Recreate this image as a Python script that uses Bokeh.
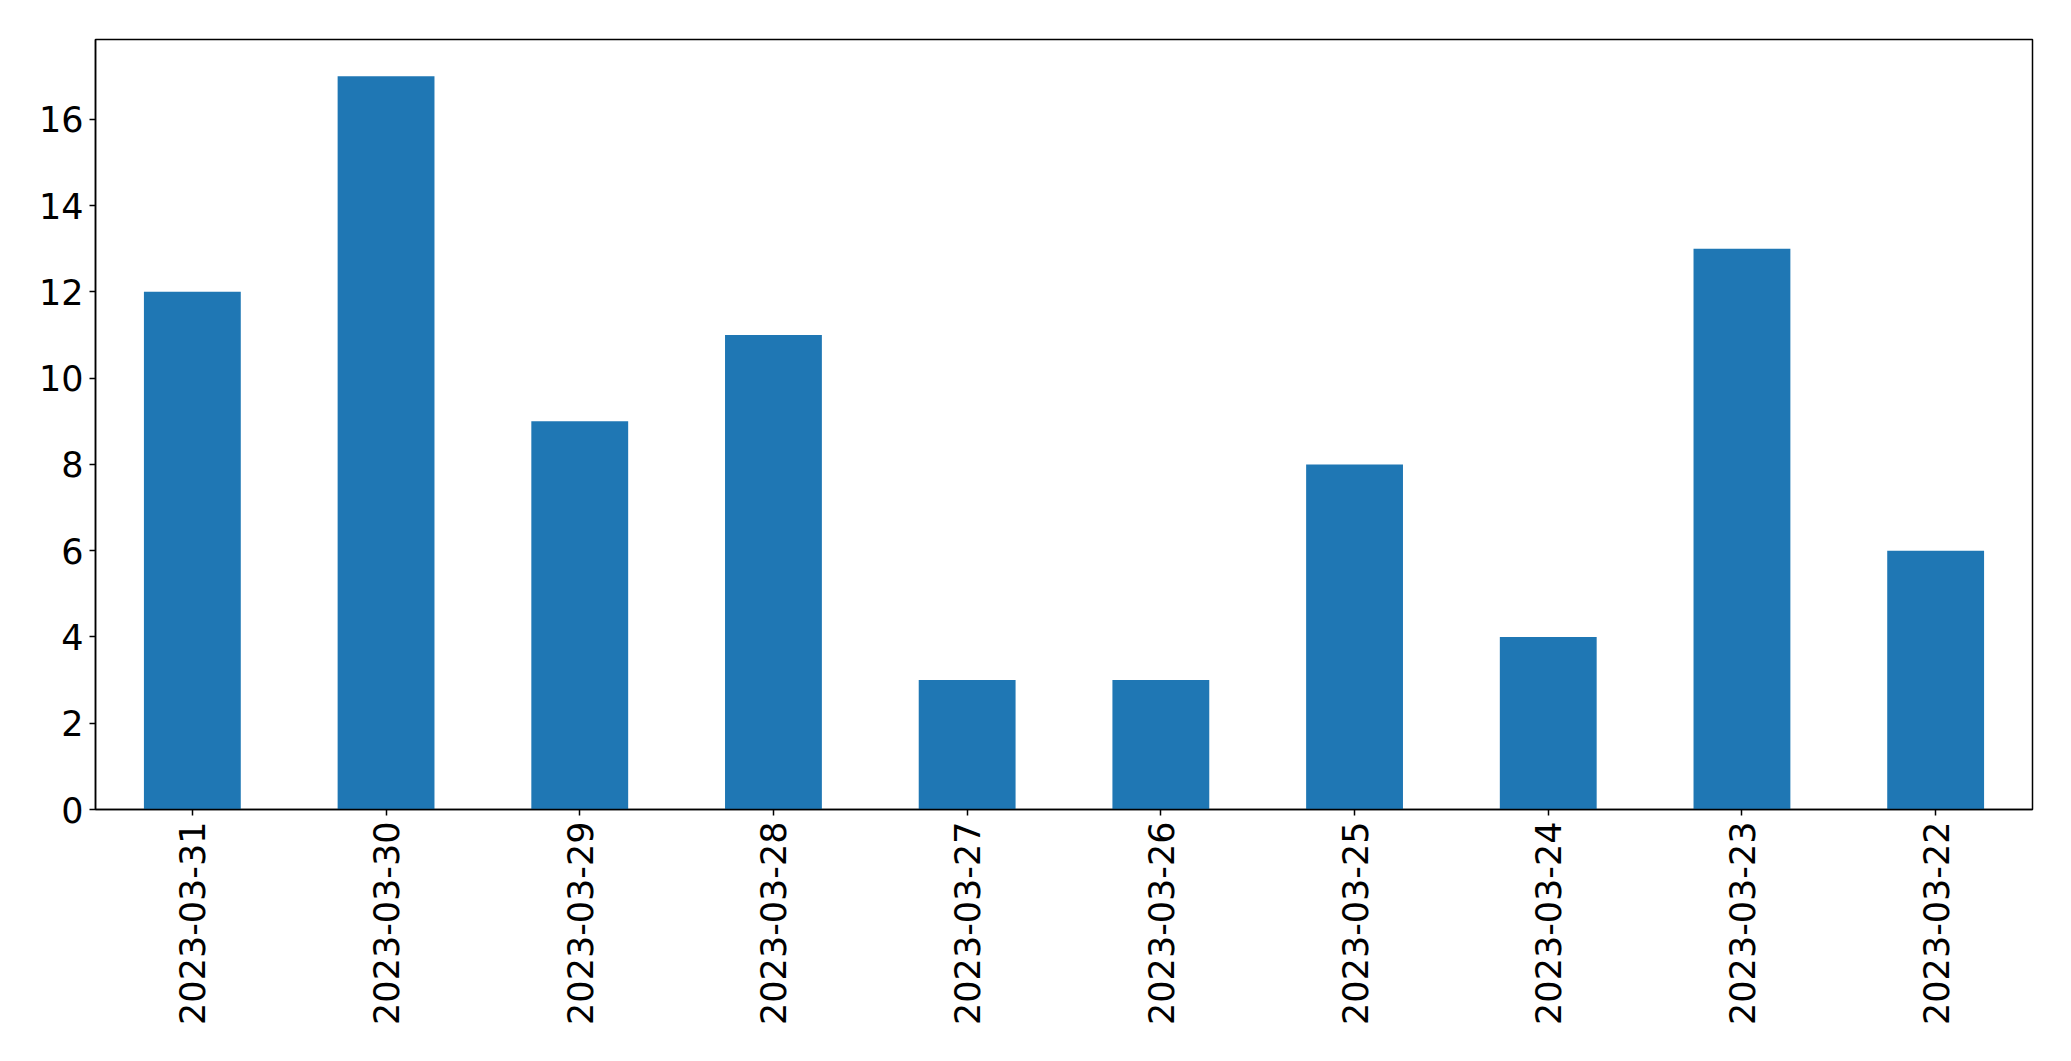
import math
from bokeh.plotting import figure
from bokeh.models import FixedTicker, Range1d
from bokeh.embed import file_html
from bokeh.resources import INLINE

dates = ["2023-03-31", "2023-03-30", "2023-03-29", "2023-03-28", "2023-03-27",
         "2023-03-26", "2023-03-25", "2023-03-24", "2023-03-23", "2023-03-22"]
counts = [12, 17, 9, 11, 3, 3, 8, 4, 13, 6]
y_ticks = [0, 2, 4, 6, 8, 10, 12, 14, 16]

FONT = "DejaVu Sans"
FS = "35px"

p = figure(x_range=dates, y_range=Range1d(0, max(counts) * 1.05),
           width=2071, height=1061, output_backend="svg", toolbar_location=None,
           min_border_left=95, min_border_right=39, min_border_top=39, min_border_bottom=252)

p.vbar(x=dates, top=counts, width=0.5, color="#1f77b4", line_color=None)

p.xgrid.visible = False
p.ygrid.visible = False
p.outline_line_color = "black"
p.outline_line_width = 1.5
p.outline_line_alpha = 1.0
p.background_fill_color = "white"
p.border_fill_color = "white"
p.x_range.range_padding = 0.0

for ax in (p.xaxis[0], p.yaxis[0]):
    ax.axis_line_color = "black"
    ax.axis_line_width = 1.5
    ax.major_tick_line_color = "black"
    ax.major_tick_line_width = 1.5
    ax.major_tick_out = 6
    ax.major_tick_in = 0
    ax.minor_tick_line_color = None
    ax.major_label_text_font = FONT
    ax.major_label_text_font_size = FS
    ax.major_label_text_color = "black"
    ax.major_label_standoff = 6

p.yaxis[0].ticker = FixedTicker(ticks=y_ticks)
p.xaxis[0].major_label_orientation = math.pi / 2

open("out.html", "w").write(file_html(p, INLINE))
